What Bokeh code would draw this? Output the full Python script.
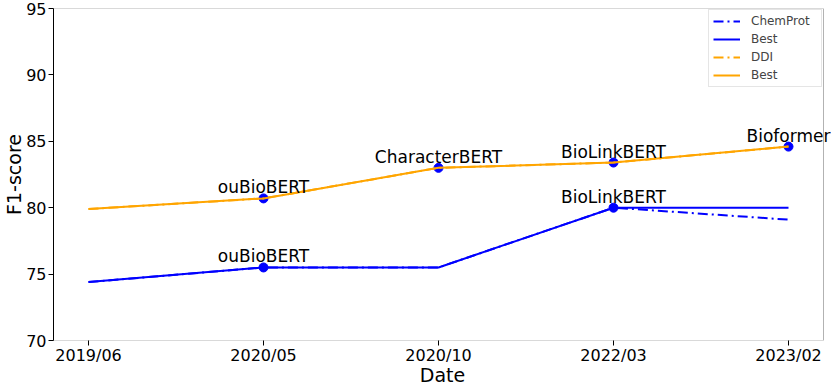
from bokeh.plotting import figure
from bokeh.models import (Range1d, FixedTicker, Legend, LegendItem, Label, BoxAnnotation)
from bokeh.embed import file_html
from bokeh.resources import INLINE

dates = ["2019/06", "2020/05", "2020/10", "2022/03", "2023/02"]
chemprot = [74.4, 75.5, 75.5, 80.0, 79.1]
chemprot_best = [74.4, 75.5, 75.5, 80.0, 80.0]
ddi = [79.9, 80.7, 83.0, 83.4, 84.6]
ddi_best = [79.9, 80.7, 83.0, 83.4, 84.6]

chemprot_marks = [(1, "ouBioBERT"), (3, "BioLinkBERT")]
ddi_marks = [(1, "ouBioBERT"), (2, "CharacterBERT"), (3, "BioLinkBERT"), (4, "Bioformer")]

y_ticks = [70, 75, 80, 85, 90, 95]

FONT = "DejaVu Sans"
BLUE = "#0000ff"
ORANGE = "#ffa500"

xs = list(range(len(dates)))
x_lo = -0.2
x_hi = len(dates) - 1 + 0.2
# frame extends a little past the drawn right spine so the last label is not clipped
x_view_hi = x_lo + 778 / 175.0

p = figure(width=831, height=388, output_backend="svg", toolbar_location=None,
           x_range=Range1d(x_lo, x_view_hi), y_range=Range1d(70, 95),
           min_border_left=53, min_border_right=0, min_border_top=8, min_border_bottom=48)
p.background_fill_color = "white"
p.border_fill_color = "white"
p.outline_line_color = None
p.xgrid.visible = False
p.ygrid.visible = False

p.xaxis.ticker = FixedTicker(ticks=xs)
p.xaxis.major_label_overrides = {i: d for i, d in enumerate(dates)}
p.yaxis.ticker = FixedTicker(ticks=y_ticks)
for ax in (p.xaxis, p.yaxis):
    ax.major_label_text_font = FONT
    ax.major_label_text_font_size = "16px"
    ax.major_label_text_color = "black"
    ax.axis_label_text_font = FONT
    ax.axis_label_text_font_size = "19px"
    ax.axis_label_text_font_style = "normal"
    ax.axis_label_text_color = "black"
    ax.major_tick_out = 5
    ax.major_tick_in = 0
    ax.minor_tick_out = 0
    ax.minor_tick_in = 0
    ax.axis_line_color = "black"
    ax.major_tick_line_color = "black"
p.xaxis.axis_line_color = None
p.xaxis.axis_label = "Date"
p.yaxis.axis_label = "F1-score"
p.xaxis.axis_label_standoff = -4
p.yaxis.axis_label_standoff = -2
p.xaxis.major_label_standoff = 0
p.yaxis.major_label_standoff = 2

# frame box (spines)
p.add_layout(BoxAnnotation(left=x_lo, right=x_hi, bottom=70, top=95,
                           fill_alpha=0, line_color="black", line_width=1, level="overlay"))

# points
px = [i for i, _ in chemprot_marks] + [i for i, _ in ddi_marks]
py = [chemprot[i] for i, _ in chemprot_marks] + [ddi[i] for i, _ in ddi_marks]
p.scatter(px, py, size=9, color=BLUE, line_color=BLUE)

r1 = p.line(xs, chemprot, line_color=BLUE, line_width=2, line_dash="10 4 2 4")
r2 = p.line(xs, chemprot_best, line_color=BLUE, line_width=2)
r3 = p.line(xs, ddi, line_color=ORANGE, line_width=2, line_dash="10 4 2 4")
r4 = p.line(xs, ddi_best, line_color=ORANGE, line_width=2)

for i, name in chemprot_marks:
    p.add_layout(Label(x=i, y=chemprot[i], text=name, text_align="center",
                       text_baseline="alphabetic", y_offset=11, text_font=FONT,
                       text_font_size="17px", text_color="black", level="overlay"))
for i, name in ddi_marks:
    p.add_layout(Label(x=i, y=ddi[i], text=name, text_align="center",
                       text_baseline="alphabetic", y_offset=11, text_font=FONT,
                       text_font_size="17px", text_color="black", level="overlay"))

legend = Legend(items=[
    LegendItem(label="ChemProt", renderers=[r1]),
    LegendItem(label="Best", renderers=[r2]),
    LegendItem(label="DDI", renderers=[r3]),
    LegendItem(label="Best", renderers=[r4]),
], location=(655, 253))
legend.label_text_font = FONT
legend.label_text_font_size = "12px"
legend.label_height = 14
legend.glyph_height = 14
legend.glyph_width = 27
legend.label_standoff = 11
legend.label_width = 66
legend.spacing = 4
legend.padding = 4
legend.margin = 0
legend.border_line_color = "#cccccc"
legend.border_line_width = 1
legend.background_fill_alpha = 0.8
p.add_layout(legend)

open("out.html", "w").write(file_html(p, INLINE))
